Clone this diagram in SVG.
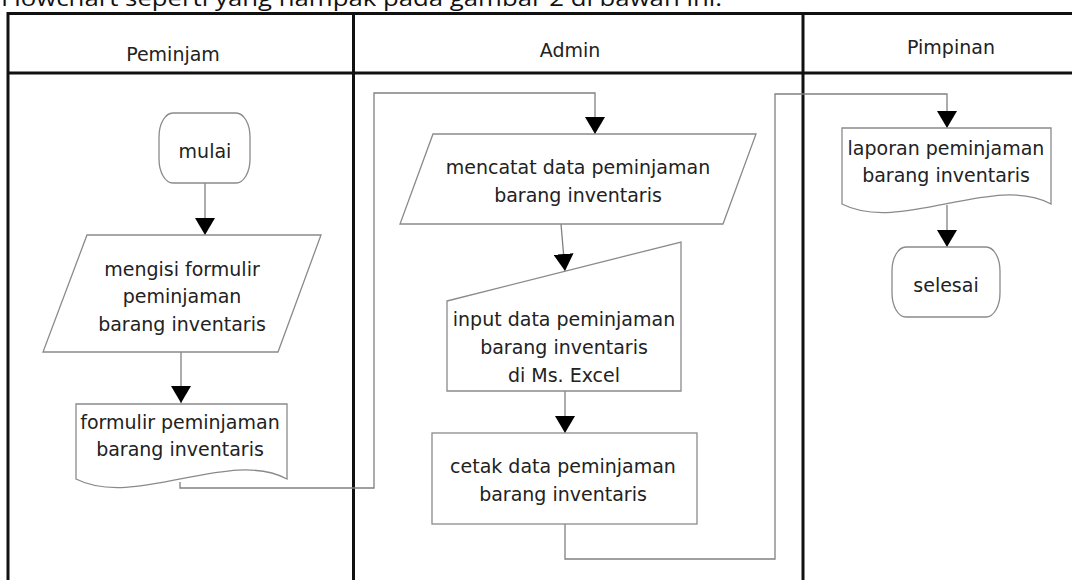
<svg xmlns="http://www.w3.org/2000/svg" width="1072" height="580" viewBox="0 0 1072 580">
<style>
.lane{stroke:#111;stroke-width:3;fill:none}
.shape{fill:#fff;stroke:#8a8a8a;stroke-width:1.3}
.conn{fill:none;stroke:#808080;stroke-width:1.3}
.t{font-family:"DejaVu Sans",Verdana,sans-serif;font-size:19px;fill:#222;text-anchor:middle}
.h{font-family:"DejaVu Sans",Verdana,sans-serif;font-size:19px;fill:#222;text-anchor:middle}
</style>
<defs>
<marker id="arr" viewBox="0 0 17 20" refX="17" refY="10" markerWidth="17" markerHeight="20" markerUnits="userSpaceOnUse" orient="auto">
<path d="M0,0 L17,10 L0,20 z" fill="#000"/>
</marker>
</defs>
<rect width="1072" height="580" fill="#fff"/>
<text x="1" y="6" font-family="'Open Sans','Liberation Sans',sans-serif" font-size="22" fill="#111" textLength="721" lengthAdjust="spacingAndGlyphs">Flowchart seperti yang nampak pada gambar 2 di bawah ini.</text>

<g id="lanes">
<path class="lane" d="M8,580 V13.5 H1072"/>
<path class="lane" d="M8,73 H1072"/>
<path class="lane" d="M353.5,13.5 V580"/>
<path class="lane" d="M803,13.5 V580"/>
<text class="h" x="173" y="61">Peminjam</text>
<text class="h" x="570" y="57">Admin</text>
<text class="h" x="951" y="54">Pimpinan</text>
</g>

<g id="connectors">
<path class="conn" d="M205,183 V235" marker-end="url(#arr)"/>
<path class="conn" d="M181,352 V403" marker-end="url(#arr)"/>
<path class="conn" d="M180,482 V488 H374 V93 H595 V134" marker-end="url(#arr)"/>
<path class="conn" d="M561,224 L565,271" marker-end="url(#arr)"/>
<path class="conn" d="M565,391 V433" marker-end="url(#arr)"/>
<path class="conn" d="M565,524 V559 H775 V94 H947 V128" marker-end="url(#arr)"/>
<path class="conn" d="M947,205 V247" marker-end="url(#arr)"/>
</g>

<g id="mulai">
<rect class="shape" x="159" y="113" width="91" height="70" rx="14" ry="24"/>
<text class="t" x="205" y="158">mulai</text>
</g>

<g id="mengisi">
<polygon class="shape" points="87,235 321,235 278,352 43,352"/>
<text class="t" x="182" y="276">mengisi formulir</text>
<text class="t" x="182" y="303">peminjaman</text>
<text class="t" x="182" y="331">barang inventaris</text>
</g>

<g id="formulir">
<path class="shape" d="M76,404 H287 V479 C230,448 135,509 76,479 Z"/>
<text class="t" x="180" y="429">formulir peminjaman</text>
<text class="t" x="180" y="456">barang inventaris</text>
</g>

<g id="mencatat">
<polygon class="shape" points="433,134 756,134 723,224 400,224"/>
<text class="t" x="578" y="174">mencatat data peminjaman</text>
<text class="t" x="578" y="202">barang inventaris</text>
</g>

<g id="input">
<polygon class="shape" points="447,301 681,242 681,391 447,391"/>
<text class="t" x="564" y="326">input data peminjaman</text>
<text class="t" x="564" y="354">barang inventaris</text>
<text class="t" x="564" y="382">di Ms. Excel</text>
</g>

<g id="cetak">
<rect class="shape" x="432" y="433" width="265" height="91"/>
<text class="t" x="563" y="473">cetak data peminjaman</text>
<text class="t" x="563" y="501">barang inventaris</text>
</g>

<g id="laporan">
<path class="shape" d="M842,128 H1051 V204 C995,173 900,234 842,204 Z"/>
<text class="t" x="946" y="155">laporan peminjaman</text>
<text class="t" x="946" y="182">barang inventaris</text>
</g>

<g id="selesai">
<rect class="shape" x="892" y="247" width="108" height="70" rx="14" ry="24"/>
<text class="t" x="946" y="292">selesai</text>
</g>
</svg>
